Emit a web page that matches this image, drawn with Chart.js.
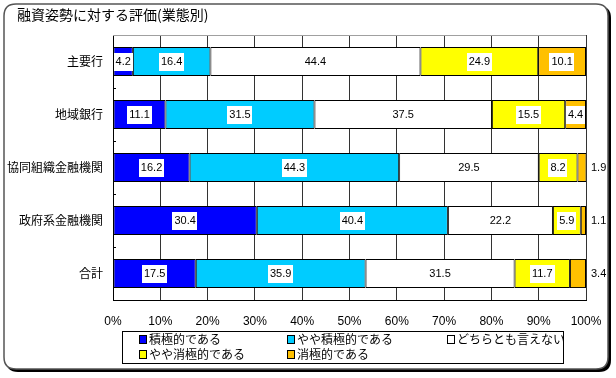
<!DOCTYPE html>
<html>
<head>
<meta charset="utf-8">
<script src="https://cdn.jsdelivr.net/npm/chart.js@4"></script>
<style>
  html, body { margin: 0; padding: 0; background: #fff; }
  #wrap { width: 616px; height: 378px; position: relative; }
</style>
</head>
<body>
<div id="wrap"><canvas id="chart_yushiShisei"></canvas></div>
<script>
var titleText = '融資姿勢に対する評価(業態別)';
var categories = ['主要行', '地域銀行', '協同組織金融機関', '政府系金融機関', '合計'];
var seriesNames = ['積極的である', 'やや積極的である', 'どちらとも言えない', 'やや消極的である', '消極的である'];
var sekkyoku = [4.2, 11.1, 16.2, 30.4, 17.5];
var yayaSekkyoku = [16.4, 31.5, 44.3, 40.4, 35.9];
var dochiramo = [44.4, 37.5, 29.5, 22.2, 31.5];
var yayaShokyoku = [24.9, 15.5, 8.2, 5.9, 11.7];
var shokyoku = [10.1, 4.4, 1.9, 1.1, 3.4];
var seriesColors = ['#0000ff', '#00ccff', '#ffffff', '#ffff00', '#ffc000'];
var xTicks = [0, 10, 20, 30, 40, 50, 60, 70, 80, 90, 100];

var jpFont = '"Noto Sans CJK JP", sans-serif';
var numFont = '"Liberation Sans", Arial, sans-serif';

function roundRect(ctx, x, y, w, h, r) {
  ctx.beginPath();
  ctx.moveTo(x + r, y);
  ctx.lineTo(x + w - r, y);
  ctx.quadraticCurveTo(x + w, y, x + w, y + r);
  ctx.lineTo(x + w, y + h - r);
  ctx.quadraticCurveTo(x + w, y + h, x + w - r, y + h);
  ctx.lineTo(x + r, y + h);
  ctx.quadraticCurveTo(x, y + h, x, y + h - r);
  ctx.lineTo(x, y + r);
  ctx.quadraticCurveTo(x, y, x + r, y);
  ctx.closePath();
}

var allSeries = [sekkyoku, yayaSekkyoku, dochiramo, yayaShokyoku, shokyoku];

var chart_yushiShisei = new Chart(document.getElementById('chart_yushiShisei'), {
    type: 'bar',
    data: {
        labels: categories,
        datasets: allSeries.map(function (vals, i) {
            return {
                label: seriesNames[i],
                data: vals,
                backgroundColor: seriesColors[i],
                borderColor: '#000000',
                borderWidth: 1,
                borderSkipped: false,
                categoryPercentage: 0.55,
                barPercentage: 1.0
            };
        })
    },
    options: {
        indexAxis: 'y',
        animation: false,
        responsive: true,
        maintainAspectRatio: false,
        layout: { padding: { top: 35, right: 30, left: 0, bottom: 48 } },
        plugins: {
            legend: { display: false },
            title: { display: false },
            tooltip: { enabled: false }
        },
        scales: {
            x: {
                stacked: true,
                min: 0,
                max: 100,
                afterFit: function (scale) { scale.height = 30; },
                afterBuildTicks: function (scale) {
                    scale.ticks = xTicks.map(function (v) { return { value: v }; });
                },
                ticks: {
                    padding: 14,
                    color: '#000',
                    font: { family: numFont, size: 12 },
                    maxRotation: 0,
                    callback: function (v) { return v + '%'; }
                },
                grid: { color: '#333333', lineWidth: 1, drawTicks: false },
                border: { display: true, color: '#000', width: 1 }
            },
            y: {
                stacked: true,
                afterFit: function (scale) { scale.width = 113; },
                ticks: {
                    padding: 10,
                    color: '#000',
                    font: { family: jpFont, size: 12 }
                },
                grid: { display: false, drawTicks: false },
                border: { display: true, color: '#000', width: 1 }
            }
        }
    },
    plugins: [{
        id: 'frameAndLabels',
        beforeDraw: function (chart) {
            var ctx = chart.ctx;
            ctx.save();
            ctx.fillStyle = '#fff';
            ctx.fillRect(0, 0, chart.width, chart.height);
            // shadowed rounded frame
            ctx.fillStyle = '#000';
            roundRect(ctx, 6, 6, 605, 366, 12);
            ctx.fill();
            ctx.fillStyle = '#fff';
            roundRect(ctx, 4, 4, 604, 365, 12);
            ctx.fill();
            ctx.strokeStyle = '#555';
            ctx.lineWidth = 1.5;
            ctx.stroke();
            // title
            ctx.fillStyle = '#000';
            ctx.font = '14px ' + jpFont;
            ctx.textBaseline = 'middle';
            ctx.textAlign = 'left';
            ctx.fillText(titleText, 17, 15);
            ctx.restore();
        },
        beforeDatasetsDraw: function (chart) {
            var ctx = chart.ctx, a = chart.chartArea;
            ctx.save();
            ctx.strokeStyle = '#a0a0a0';
            ctx.lineWidth = 1;
            ctx.beginPath();
            ctx.moveTo(a.left, a.top + 0.5);
            ctx.lineTo(a.right, a.top + 0.5);
            ctx.stroke();
            // small category separator ticks on the axis
            var ys = chart.scales.y;
            ctx.strokeStyle = '#000';
            for (var i = 1; i < categories.length; i++) {
                var yy = Math.round((ys.getPixelForValue(i - 1) + ys.getPixelForValue(i)) / 2) + 0.5;
                ctx.beginPath();
                ctx.moveTo(a.left, yy);
                ctx.lineTo(a.left + 3, yy);
                ctx.stroke();
            }
            ctx.restore();
        },
        afterDatasetsDraw: function (chart) {
            var ctx = chart.ctx, a = chart.chartArea;
            ctx.save();
            ctx.font = '11px ' + numFont;
            ctx.textBaseline = 'middle';
            chart.data.datasets.forEach(function (ds, di) {
                var meta = chart.getDatasetMeta(di);
                meta.data.forEach(function (bar, i) {
                    var txt = ds.data[i].toFixed(1);
                    var tw = ctx.measureText(txt).width;
                    var left = Math.min(bar.x, bar.base), right = Math.max(bar.x, bar.base);
                    var w = right - left;
                    if (di === chart.data.datasets.length - 1 && w < tw + 2) {
                        ctx.fillStyle = '#000';
                        ctx.textAlign = 'left';
                        ctx.fillText(txt, a.right + 5, bar.y);
                        return;
                    }
                    var cx = (left + right) / 2;
                    ctx.fillStyle = '#fff';
                    ctx.fillRect(Math.round(cx - tw / 2 - 2), Math.round(bar.y - 9), Math.round(tw + 4), 18);
                    ctx.fillStyle = '#000';
                    ctx.textAlign = 'center';
                    ctx.fillText(txt, cx, bar.y + 0.5);
                });
            });
            ctx.restore();
        },
        afterDraw: function (chart) {
            var ctx = chart.ctx;
            ctx.save();
            // legend box
            ctx.strokeStyle = '#000';
            ctx.lineWidth = 1;
            ctx.strokeRect(122.5, 331.5, 441, 32);
            var colX = [139, 287, 447];
            var rowY = [339, 354];
            ctx.font = '12px ' + jpFont;
            ctx.textBaseline = 'middle';
            ctx.textAlign = 'left';
            chart.data.datasets.forEach(function (ds, i) {
                var x = colX[i % 3], y = rowY[Math.floor(i / 3)];
                ctx.fillStyle = ds.backgroundColor;
                ctx.fillRect(x, y - 4, 7, 8);
                ctx.strokeStyle = '#000';
                ctx.strokeRect(x + 0.5, y - 3.5, 7, 8);
                ctx.fillStyle = '#000';
                ctx.fillText(ds.label, x + 10, y);
            });
            ctx.restore();
        }
    }]
});
</script>
</body>
</html>
